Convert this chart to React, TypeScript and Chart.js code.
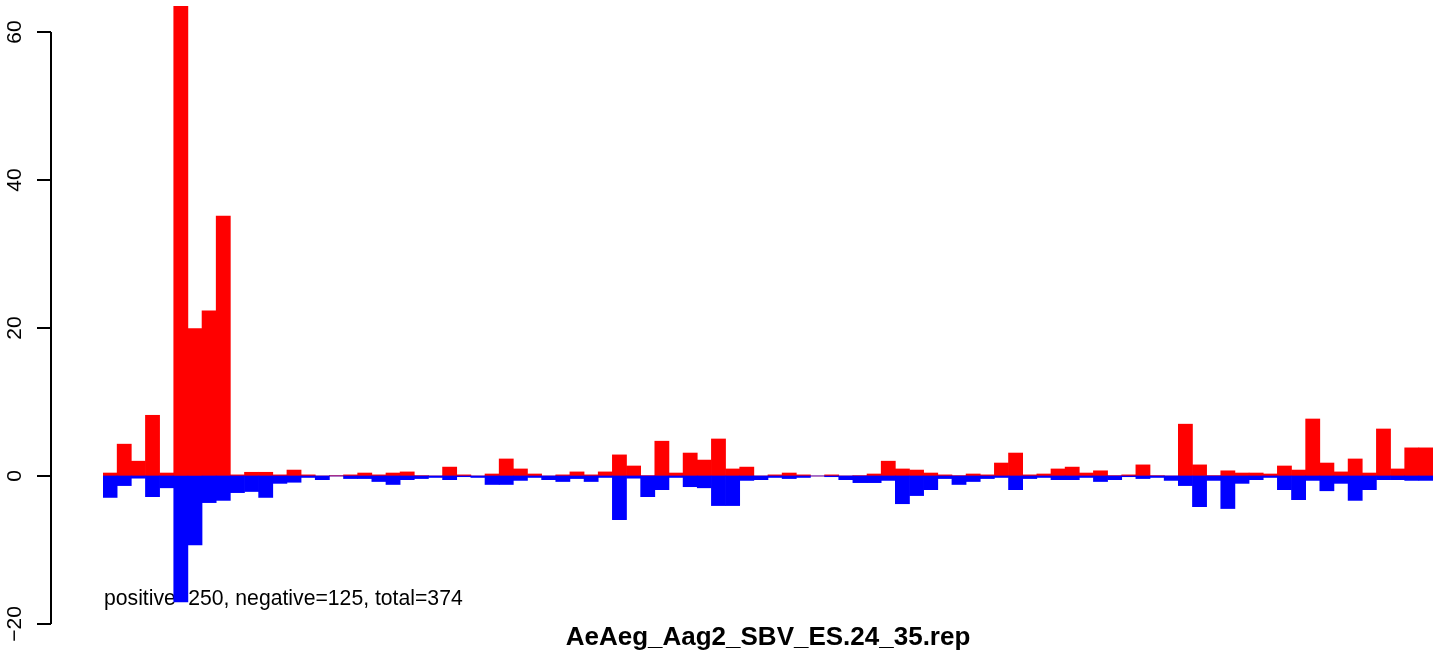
import React, { useEffect, useRef } from "react";
import { Chart, registerables } from "chart.js";

Chart.register(...registerables);

const positiveValues: number[] = [
  0.4, 4.3, 2.0, 8.2, 0.4, 63.5, 19.9, 22.3, 35.1, 0.15,
  0.5, 0.5, 0.15, 0.8, 0.15, 0, 0.05, 0.15, 0.4, 0.15,
  0.4, 0.55, 0.05, 0, 1.2, 0.15, 0, 0.27, 2.3, 0.95,
  0.27, 0, 0.15, 0.55, 0.15, 0.55, 2.85, 1.35, 0.05, 4.7,
  0.4, 3.1, 2.15, 5.0, 0.95, 1.2, 0, 0.15, 0.4, 0.15,
  0, 0.15, 0, 0.05, 0.27, 2.0, 0.95, 0.8, 0.4, 0.15,
  0.05, 0.27, 0.15, 1.75, 3.1, 0.15, 0.27, 0.95, 1.2, 0.4,
  0.7, 0.05, 0.15, 1.5, 0.05, 0, 7.0, 1.5, 0.05, 0.7,
  0.4, 0.4, 0.27, 1.35, 0.8, 7.7, 1.75, 0.55, 2.3, 0.4,
  6.35, 0.95, 3.8, 3.8,
];

const negativeValues: number[] = [
  -2.9, -1.3, -0.3, -2.8, -1.6, -17.0, -9.3, -3.6, -3.3, -2.25,
  -2.1, -2.9, -1.0, -0.85, -0.2, -0.5, 0, -0.35, -0.35, -0.75,
  -1.15, -0.5, -0.35, -0.2, -0.5, -0.1, -0.2, -1.15, -1.15, -0.6,
  -0.2, -0.5, -0.75, -0.35, -0.75, -0.2, -5.9, -0.3, -2.8, -1.85,
  -0.2, -1.45, -1.6, -4.0, -4.0, -0.6, -0.5, -0.2, -0.35, -0.2,
  0, -0.1, -0.5, -0.9, -0.9, -0.6, -3.75, -2.65, -1.85, -0.35,
  -1.15, -0.75, -0.35, -0.2, -1.85, -0.35, -0.2, -0.5, -0.5, -0.2,
  -0.75, -0.5, -0.1, -0.35, -0.2, -0.6, -1.3, -4.15, -0.6, -4.4,
  -1.0, -0.5, -0.2, -1.85, -3.2, -0.6, -2.0, -1.0, -3.3, -1.85,
  -0.5, -0.5, -0.6, -0.6,
];

const categories: string[] = positiveValues.map((_, i) => String(i + 1));
const yTicks: number[] = [-20, 0, 20, 40, 60];
const titleText = "AeAeg_Aag2_SBV_ES.24_35.rep";
const summaryText = "positive=250, negative=125, total=374";

const FONT = "'Liberation Sans', Arial, Helvetica, sans-serif";

const fmtTick = (t: number) => (t < 0 ? "\u2212" + String(-t) : String(t));

const rAxisPlugin = {
  id: "rAxis",
  beforeDatasetsDraw(chart: any) {
    const ctx = chart.ctx;
    ctx.save();
    ctx.fillStyle = "#000";
    ctx.font = `21.2px ${FONT}`;
    ctx.textAlign = "left";
    ctx.textBaseline = "alphabetic";
    ctx.fillText(summaryText, 104, 605);
    ctx.restore();
  },
  afterDraw(chart: any) {
    const ctx = chart.ctx;
    const y = chart.scales.y;
    const axisX = 51;
    ctx.save();
    ctx.strokeStyle = "#000";
    ctx.lineWidth = 2;
    ctx.beginPath();
    ctx.moveTo(axisX, y.getPixelForValue(yTicks[0]));
    ctx.lineTo(axisX, y.getPixelForValue(yTicks[yTicks.length - 1]));
    ctx.stroke();
    ctx.fillStyle = "#000";
    ctx.font = `21px ${FONT}`;
    for (const t of yTicks) {
      const py = Math.round(y.getPixelForValue(t));
      ctx.beginPath();
      ctx.moveTo(37, py);
      ctx.lineTo(axisX, py);
      ctx.stroke();
      ctx.save();
      ctx.translate(20.5, py);
      ctx.rotate(-Math.PI / 2);
      ctx.textAlign = "center";
      ctx.textBaseline = "alphabetic";
      ctx.fillText(fmtTick(t), 0, 0);
      ctx.restore();
    }
    ctx.font = `bold 26px ${FONT}`;
    ctx.textAlign = "center";
    ctx.textBaseline = "alphabetic";
    ctx.fillText(titleText, 768, 645);
    ctx.restore();
  },
};

export default function App() {
  const canvasRef = useRef<HTMLCanvasElement | null>(null);

  useEffect(() => {
    document.body.style.margin = "0";
    const canvas = canvasRef.current;
    if (!canvas) return;
    const chart = new Chart(canvas, {
      type: "bar",
      data: {
        labels: categories,
        datasets: [
          {
            label: "negative",
            data: negativeValues,
            backgroundColor: "#0000FF",
            borderWidth: 0,
            grouped: false,
            categoryPercentage: 1,
            barPercentage: 1,
            order: 0,
          },
          {
            label: "positive",
            data: positiveValues,
            backgroundColor: "#FF0000",
            borderWidth: 0,
            grouped: false,
            categoryPercentage: 1,
            barPercentage: 1,
            order: 1,
          },
        ],
      },
      options: {
        animation: false,
        responsive: false,
        maintainAspectRatio: false,
        devicePixelRatio: 1,
        layout: { padding: { left: 103, right: 19, top: 6, bottom: 32 } },
        plugins: {
          legend: { display: false },
          tooltip: { enabled: false },
          title: { display: false },
        },
        scales: {
          x: { display: false, offset: true, grid: { display: false } },
          y: { display: false, min: -20, max: 63.5, grid: { display: false } },
        },
      },
      plugins: [rAxisPlugin],
    });
    return () => chart.destroy();
  }, []);

  return (
    <div style={{ position: "fixed", left: 0, top: 0, width: 1452, height: 656, background: "#fff" }}>
      <canvas ref={canvasRef} width={1452} height={656} style={{ display: "block" }} />
    </div>
  );
}
